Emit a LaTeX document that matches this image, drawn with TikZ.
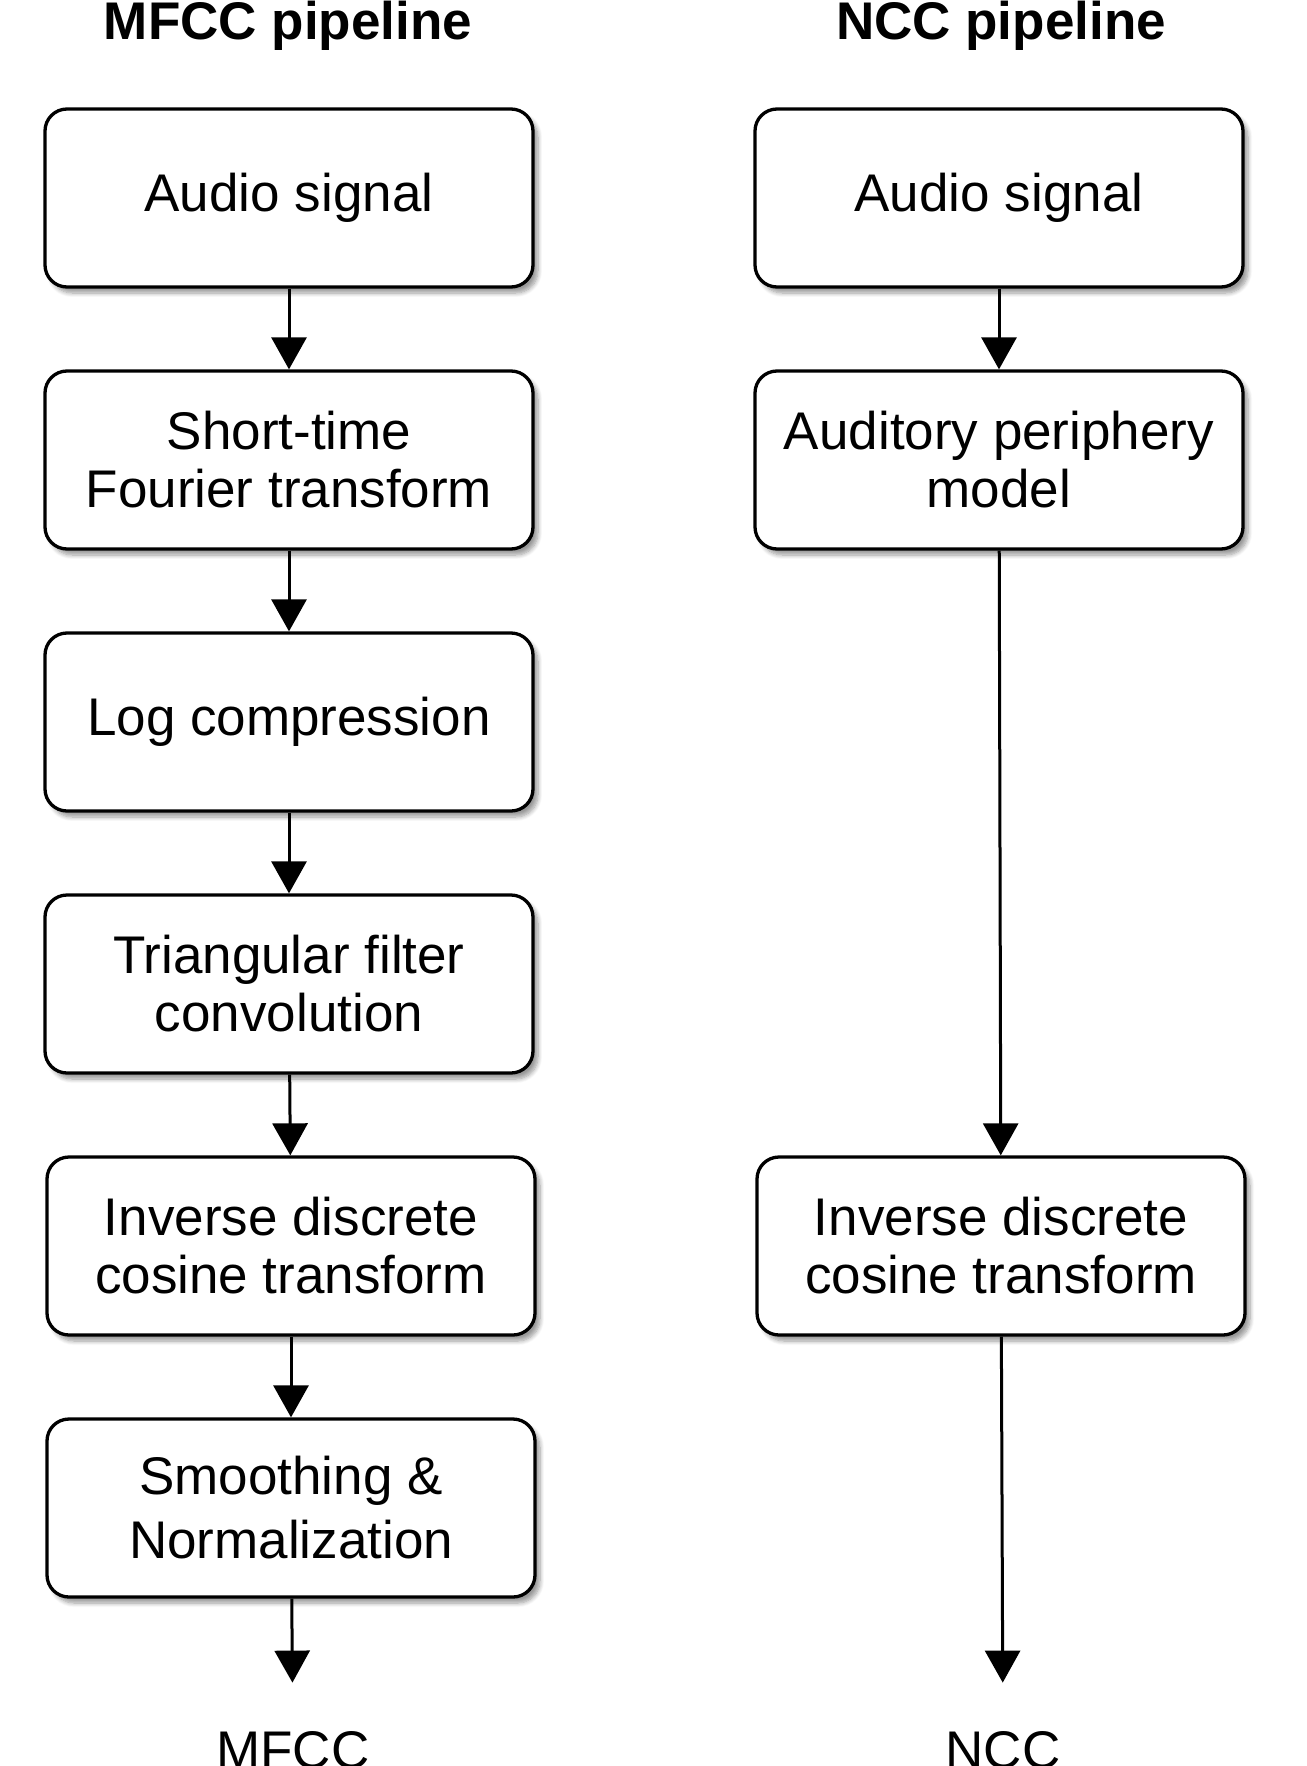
\documentclass[tikz,border=0pt]{standalone}
\usepackage{fontspec}
\setmainfont{Liberation Sans}
\usetikzlibrary{arrows.meta}
\usetikzlibrary{shadows.blur}

\tikzset{
	stage/.style={draw, line width=1.65pt, rounded corners=11pt, fill=white,
		minimum width=244pt, minimum height=89pt, inner sep=0pt, align=center,
		font=\fontsize{26.5pt}{29pt}\selectfont,
		blur shadow={shadow xshift=2.5pt, shadow yshift=-3pt, shadow blur steps=8, shadow opacity=40}},
	flow/.style={->, >={Triangle[width=17.5pt,length=16pt]}, line width=1.5pt},
	heading/.style={anchor=base, inner sep=0pt, font=\fontsize{26.5pt}{29pt}\selectfont\bfseries},
	output/.style={anchor=base, inner sep=0pt, font=\fontsize{26.5pt}{29pt}\selectfont}
}

\begin{document}
\begin{tikzpicture}[x=0.5pt, y=-0.5pt]
	\useasboundingbox (0,0) rectangle (1306,1766);
	
	% titles
	\node[heading] (mtitle) at (288,40) {MFCC pipeline};
	\node[heading] (ntitle) at (1001,40) {NCC pipeline};
	
	% MFCC pipeline
	\node[stage] (m1) at (289,198) {Audio signal};
	\node[stage] (m2) at (289,460) {Short-time\\Fourier transform};
	\node[stage] (m3) at (289,722) {Log compression};
	\node[stage] (m4) at (289,984) {Triangular filter\\convolution};
	\node[stage] (m5) at (291,1246) {Inverse discrete\\cosine transform};
	\node[stage] (m6) at (291,1508) {Smoothing \&\\[3pt]Normalization};
	\node[output] (mfcc) at (293,1768) {MFCC};
	
	% NCC pipeline
	\node[stage] (n1) at (999,198) {Audio signal};
	\node[stage] (n2) at (999,460) {Auditory periphery\\model};
	\node[stage] (n3) at (1001,1246) {Inverse discrete\\cosine transform};
	\node[output] (ncc) at (1003,1768) {NCC};
	
	\foreach \a/\b in {m1/m2,m2/m3,m3/m4,m4/m5,m5/m6,n1/n2,n2/n3}{
		\draw[flow] (\a) -- (\b);
	}
	\draw[flow, shorten >=24pt] (m6) -- (mfcc);
	\draw[flow, shorten >=24pt] (n3) -- (ncc);
	
\end{tikzpicture}
\end{document}
